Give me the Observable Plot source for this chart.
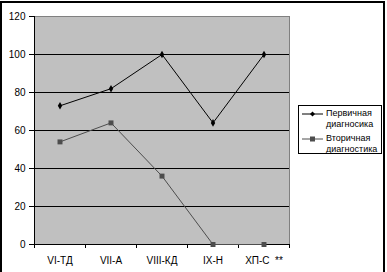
<!DOCTYPE html>
<html>
<head>
<meta charset="utf-8">
<script src="https://cdn.jsdelivr.net/npm/d3@7"></script>
<script src="https://cdn.jsdelivr.net/npm/@observablehq/plot@0.6"></script>
<style>
  body { margin: 0; background: #fff; font-family: "Liberation Sans", Arial, sans-serif; }
  #wrap { position: relative; width: 387px; height: 272px; overflow: hidden; }
  #border { position: absolute; left: 0px; top: 1px; width: 381px; height: 280px; border: 2px solid #000; pointer-events: none; }
  #legend { position: absolute; left: 298px; top: 105px; width: 82px; height: 47px; border: 1px solid #000; background: #fff; font-size: 9px; line-height: 11px; color: #000; white-space: nowrap; }
  .entry { position: relative; height: 23px; padding-left: 27px; padding-top: 2px; }
  .entry svg { position: absolute; left: 3px; top: 3px; }
</style>
</head>
<body>
<div id="wrap">
  <div id="chart"></div>
  <div id="legend"></div>
  <div id="border"></div>
</div>
<script>
const categories = ["VI-ТД", "VII-А", "VIII-КД", "IX-Н", "ХП-С  **"];
const primary = [73, 82, 100, 64, 100];
const secondary = [54, 64, 36, 0, 0];
const seriesNames = ["Первичная диагносика", "Вторичная диагностика"];
const yTicks = [0, 20, 40, 60, 80, 100, 120];
const gridTicks = [20, 40, 60, 80, 100];

const primColor = "#000000";
const secColor = "#4d4d4d";

const prim = categories.map((c, i) => ({i: i + 0.5, v: primary[i]}));
const sec = categories.map((c, i) => ({i: i + 0.5, v: secondary[i]}));
const boundaries = d3.range(categories.length + 1);
const centers = categories.map((c, i) => i + 0.5);

const plot = Plot.plot({
  width: 387,
  height: 272,
  marginLeft: 34,
  marginRight: 98,
  marginTop: 16,
  marginBottom: 28,
  style: {fontFamily: "'Liberation Sans', Arial, sans-serif", fontSize: "10px", color: "#000", background: "transparent"},
  x: {domain: [0, categories.length]},
  y: {domain: [0, 120]},
  marks: [
    Plot.frame({fill: "#c0c0c0", stroke: "#808080"}),
    Plot.ruleY(gridTicks, {stroke: "#000", strokeWidth: 1}),
    Plot.ruleY([0], {stroke: "#000", strokeWidth: 1}),
    Plot.frame({anchor: "left", stroke: "#000"}),
    Plot.axisY({ticks: yTicks, tickSize: 5, tickPadding: 4, label: null, tickFormat: d => String(d)}),
    Plot.axisX({ticks: boundaries, tickSize: 4, tickFormat: () => "", label: null}),
    Plot.axisX({ticks: centers, tickSize: 0, tickPadding: 12, label: null, tickFormat: d => categories[Math.floor(d)]}),
    Plot.line(prim, {x: "i", y: "v", stroke: primColor, strokeWidth: 1}),
    Plot.dot(prim, {x: "i", y: "v", symbol: "diamond", r: 2.3, fill: primColor, stroke: "none"}),
    Plot.line(sec, {x: "i", y: "v", stroke: secColor, strokeWidth: 1}),
    Plot.dot(sec, {x: "i", y: "v", symbol: "square", r: 2.8, fill: secColor, stroke: "none"})
  ]
});
document.getElementById("chart").appendChild(plot);

const legend = document.getElementById("legend");
const colors = [primColor, secColor];
const markers = ["diamond", "square"];
seriesNames.forEach((name, k) => {
  const e = document.createElement("div");
  e.className = "entry";
  const words = name.split(" ");
  e.innerHTML = words[0] + "<br>" + words[1];
  const ns = "http://www.w3.org/2000/svg";
  const s = document.createElementNS(ns, "svg");
  s.setAttribute("width", 22); s.setAttribute("height", 10);
  const l = document.createElementNS(ns, "line");
  l.setAttribute("x1", 0); l.setAttribute("x2", 21); l.setAttribute("y1", 5); l.setAttribute("y2", 5);
  l.setAttribute("stroke", colors[k]);
  s.appendChild(l);
  const m = document.createElementNS(ns, "path");
  m.setAttribute("d", markers[k] === "diamond" ? "M10.5,2.5L13,5L10.5,7.5L8,5Z" : "M8,2.5H13V7.5H8Z");
  m.setAttribute("fill", colors[k]);
  s.appendChild(m);
  e.appendChild(s);
  legend.appendChild(e);
});
</script>
</body>
</html>
